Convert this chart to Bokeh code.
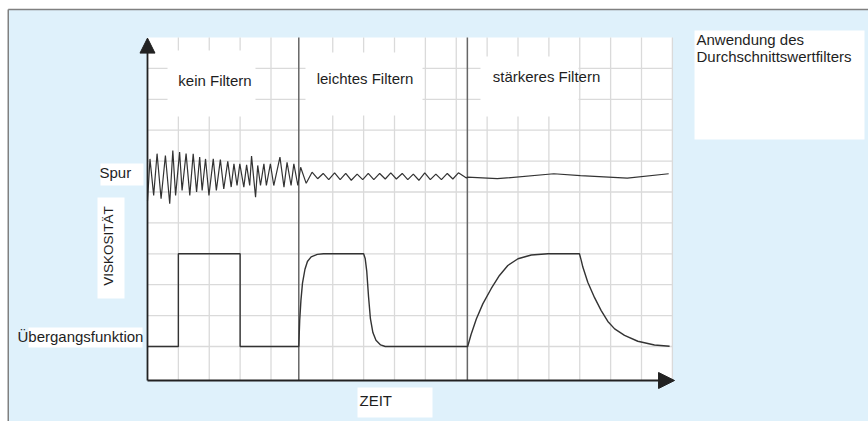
from bokeh.plotting import figure
from bokeh.models import Range1d, Label, Arrow, NormalHead
from bokeh.embed import file_html
from bokeh.resources import INLINE

# ---- data (grid units: x = time divisions, y = viscosity divisions) ----
section_names = ["kein Filtern", "leichtes Filtern", "stärkeres Filtern"]
section_bounds = [4.9, 10.36]

# "Spur" trace: unfiltered / lightly filtered / strongly filtered
spur1_x = [0.00, 0.08, 0.20, 0.31, 0.44, 0.58, 0.72, 0.82, 0.91, 1.04, 1.12, 1.25, 1.37, 1.48, 1.59,
           1.69, 1.77, 1.88, 1.99, 2.13, 2.23, 2.36, 2.47, 2.60, 2.71, 2.80, 2.90, 2.99, 3.12, 3.21,
           3.31, 3.37, 3.50, 3.57, 3.66, 3.77, 3.85, 3.98, 4.09, 4.29, 4.42, 4.52, 4.65, 4.74, 4.87]
spur1_y = [4.70, 6.07, 4.89, 6.24, 4.78, 6.18, 4.62, 6.34, 4.89, 6.29, 5.05, 6.24, 4.89, 6.24, 5.00,
           6.13, 5.05, 6.07, 4.89, 6.07, 5.05, 6.05, 5.10, 5.99, 5.16, 5.91, 5.21, 5.91, 5.16, 5.88,
           5.21, 6.16, 4.83, 5.86, 5.21, 5.91, 5.21, 5.91, 5.21, 6.13, 5.16, 5.96, 5.21, 5.91, 5.21]
spur2_x = [4.96, 5.14, 5.33, 5.51, 5.69, 5.87, 6.06, 6.24, 6.42, 6.60, 6.79, 6.97, 7.15, 7.33, 7.52,
           7.70, 7.88, 8.06, 8.25, 8.43, 8.61, 8.79, 8.98, 9.16, 9.34, 9.52, 9.71, 9.89, 10.07, 10.33]
spur2_y = [5.80, 5.28, 5.64, 5.43, 5.60, 5.40, 5.62, 5.40, 5.60, 5.38, 5.58, 5.40, 5.60, 5.40, 5.60,
           5.42, 5.62, 5.42, 5.60, 5.40, 5.58, 5.38, 5.62, 5.40, 5.58, 5.40, 5.60, 5.42, 5.62, 5.45]
spur3_x = [10.36, 11.33, 13.16, 14.02, 15.54, 16.88]
spur3_y = [5.48, 5.43, 5.59, 5.53, 5.45, 5.59]

# "Übergangsfunktion" (step response)
step_x = [0, 1, 1, 3, 3,
          4.90, 4.93, 4.97, 5.02, 5.10, 5.18, 5.30, 5.50, 5.70,
          7.00, 7.05, 7.10, 7.16, 7.22, 7.30, 7.40, 7.55, 7.70,
          10.37, 10.48, 10.65, 10.86, 11.13, 11.40, 11.67, 12.00, 12.43, 12.97,
          13.99, 14.05, 14.10, 14.26, 14.48, 14.69, 14.91, 15.13, 15.45, 15.88, 16.42, 16.91]
step_y = [0, 0, 3, 3, 0,
          0, 0.85, 1.5, 2.05, 2.5, 2.75, 2.9, 2.98, 3.0,
          3.0, 2.85, 2.45, 1.6, 0.9, 0.45, 0.2, 0.05, 0.0,
          0.0, 0.39, 0.89, 1.38, 1.87, 2.30, 2.62, 2.84, 2.96, 3.0,
          3.0, 2.78, 2.57, 2.08, 1.58, 1.17, 0.81, 0.57, 0.36, 0.17, 0.05, 0.01]

grid_x = [1, 2, 3, 4, 6, 7, 8, 9, 10, 11, 12, 13, 14, 15, 16, 17]
grid_y = [0, 1, 2, 3, 4, 5, 6, 7, 8, 9]

x_label = "ZEIT"
y_label = "VISKOSITÄT"
trace_label = "Spur"
step_label = "Übergangsfunktion"
note_lines = ["Anwendung des", "Durchschnittswertfilters"]

# ---- figure ----
BG = "#dff1fb"
INK = "#1e1e1e"
FONT = "Liberation Sans"

X0, X1, Y0, Y1 = 0, 17, -1.10, 10.0   # white drawing area

p = figure(width=868, height=421, output_backend="svg", toolbar_location=None,
           x_range=Range1d(-4.761, 23.352), y_range=Range1d(-2.427, 11.197),
           x_axis_type=None, y_axis_type=None, min_border=0,
           background_fill_color="white", border_fill_color="white", outline_line_color=None)

# blue panel with top + left border
p.quad(left=[-4.51], right=[23.6], bottom=[-2.6], top=[10.906], fill_color=BG, line_color=None)
p.segment(x0=[-4.51, -4.51], y0=[10.906, 10.906], x1=[23.6, -4.51], y1=[10.906, -2.6],
          line_color="#808080", line_width=1.5)

# white drawing area
p.quad(left=[X0], right=[X1], bottom=[Y0], top=[Y1], fill_color="white", line_color=None)

# grid
p.segment(x0=grid_x, y0=[Y0] * len(grid_x), x1=grid_x, y1=[Y1] * len(grid_x),
          line_color="#dadada", line_width=1.3)
p.segment(x0=[X0] * len(grid_y), y0=grid_y, x1=[X1] * len(grid_y), y1=grid_y,
          line_color="#dadada", line_width=1.3)

# white label boxes
p.quad(left=[0.648, 5.117, 10.785, -1.522, -1.619, -3.854, 6.802, 17.717],
       right=[3.498, 8.907, 13.96, -0.13, -0.745, -0.162, 9.231, 23.223],
       top=[9.58, 9.515, 9.385, 5.922, 4.822, 0.615, -1.327, 10.227],
       bottom=[7.44, 7.476, 7.443, 5.210, 1.553, -0.032, -2.298, 6.699],
       fill_color="white", line_color=None)

# section separators
p.segment(x0=section_bounds, y0=[Y0] * 2, x1=section_bounds, y1=[Y1] * 2,
          line_color="#666666", line_width=1.5)

# curves
p.line(spur1_x + spur2_x + spur3_x, spur1_y + spur2_y + spur3_y, line_color="#333333", line_width=1.2)
p.line(step_x, step_y, line_color="#333333", line_width=1.4)

# axes as arrows
p.add_layout(Arrow(end=NormalHead(size=15, fill_color="#222222", line_color="#222222"),
                   x_start=0, y_start=Y0, x_end=0, y_end=9.98, line_width=1.8, line_color="#222222"))
p.add_layout(Arrow(end=NormalHead(size=16, fill_color="#222222", line_color="#222222"),
                   x_start=0, y_start=Y0, x_end=17.07, y_end=Y0, line_width=1.8, line_color="#222222"))

def lab(x, y, t, align="center", angle=0, size="15px"):
    p.add_layout(Label(x=x, y=y, text=t, text_font=FONT, text_font_size=size, text_color=INK,
                       text_align=align, text_baseline="middle", angle=angle))

lab(2.186, 8.608, section_names[0])
lab(7.045, 8.683, section_names[1])
lab(12.923, 8.738, section_names[2])
lab(-1.555, 5.631, trace_label, align="left")
lab(-1.263, 3.252, y_label, angle=1.5708, size="13.5px")
lab(-4.211, 0.324, step_label, align="left")
lab(6.866, -1.748, x_label, align="left")
lab(17.78, 9.935, note_lines[0], align="left")
lab(17.78, 9.385, note_lines[1], align="left")

open("out.html", "w").write(file_html(p, INLINE))
